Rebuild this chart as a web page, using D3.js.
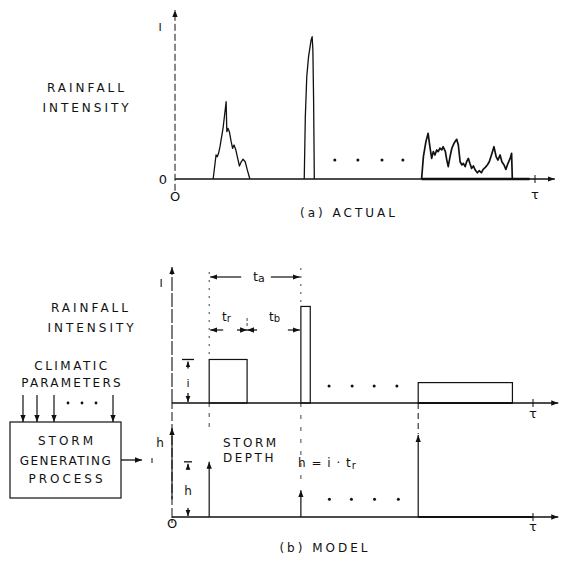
<!DOCTYPE html>
<html>
<head>
<meta charset="utf-8">
<script src="https://cdn.jsdelivr.net/npm/d3@7"></script>
<style>
  html, body { margin: 0; padding: 0; background: #fff; }
  svg { display: block; }
  text { font-family: "DejaVu Sans", sans-serif; fill: #111; }
</style>
</head>
<body>
<script>
// ---------------- DATA ----------------
// (a) ACTUAL: storm hyetographs, time tau (0-100) and intensity (0-100)
const storm1Time = [10.6, 11.4, 11.75, 12.1, 12.5, 13.4, 14.2, 14.4, 14.7, 15.1, 15.6, 16.0, 16.4, 16.9, 17.3, 17.9, 18.4, 18.9, 19.5, 20.1, 20.8];
const storm1Int  = [0, 14.2, 13.2, 15.2, 19.1, 30.9, 45.7, 28, 30, 28, 22.1, 18.2, 20.1, 17.2, 13.2, 7.7, 10.2, 11.7, 10.2, 5.3, 0];
const storm2Time = [35.9, 36.2, 36.6, 37.1, 37.8, 38.1, 38.3, 38.5, 38.7];
const storm2Int  = [0, 36.9, 60.5, 72.4, 82.2, 84.2, 76.3, 46.7, 0];
const storm3Time = [68.5, 69.0, 69.7, 70.3, 70.8, 71.3, 71.75, 72.2, 72.7, 73.1, 73.6, 74.1, 74.5, 75.1, 75.5, 75.9, 76.4, 76.9, 77.5, 78.25, 78.7, 79.2, 79.7, 80.1, 80.6, 81.0, 81.5, 81.9, 82.4, 82.9, 83.4, 84.0, 84.5, 85.1, 85.6, 86.2, 86.75, 87.3, 87.9, 88.6, 89.2, 89.7, 90.3, 90.8, 91.4, 91.9, 92.5, 93.1, 93.5, 93.7];
const storm3Int  = [0, 13.2, 22.1, 27, 19.1, 12.2, 16.2, 14.2, 17.2, 16.2, 18.2, 17.2, 19.1, 16.2, 11.2, 7.3, 13.2, 18.2, 21.1, 23.5, 20.1, 10.2, 8.3, 9.3, 7.3, 10.2, 12.2, 9.3, 6.3, 7.7, 5.3, 3.7, 4.9, 3.7, 5.7, 6.9, 8.3, 10.2, 14.2, 19.1, 13.2, 11.2, 14.2, 10.2, 8.3, 5.7, 9.3, 12.2, 15.2, 0];
const dotsActualTime = [44.4, 50.8, 57.5, 63.3];
const dotsActualInt = 11.2;

// (b) MODEL: rectangular pulses and storm depths
const modelStart     = [10.3, 35.7, 68.2];
const modelEnd       = [20.8, 38.3, 94.3];
const modelIntensity = [32, 71, 15];
const modelDepth     = [62, 30, 92];
const dotsModelTime  = [43.5, 49.9, 56.0, 62.3];
const dotsModelInt   = 12.5;
const dotsDepthTime  = [43.6, 49.7, 56.1, 62.7];
const dotsDepthVal   = 20;
const climaticArrowsX = [23, 37, 54, 113];

// ---------------- SVG ----------------
const W = 567, H = 561;
const svg = d3.select("body").append("svg").attr("width", W).attr("height", H);
const defs = svg.append("defs");
defs.append("marker").attr("id", "ah")
  .attr("viewBox", "0 0 10 10").attr("refX", 10).attr("refY", 5)
  .attr("markerWidth", 7).attr("markerHeight", 7).attr("markerUnits", "userSpaceOnUse")
  .attr("orient", "auto-start-reverse")
  .append("path").attr("d", "M0,1.2L10,5L0,8.8z").attr("fill", "#111");
defs.append("marker").attr("id", "ahs")
  .attr("viewBox", "0 0 10 10").attr("refX", 10).attr("refY", 5)
  .attr("markerWidth", 6).attr("markerHeight", 6).attr("markerUnits", "userSpaceOnUse")
  .attr("orient", "auto-start-reverse")
  .append("path").attr("d", "M0,1L10,5L0,9z").attr("fill", "#111");

const ink = "#111";
function line(g, x1, y1, x2, y2, opts = {}) {
  const l = g.append("line").attr("x1", x1).attr("y1", y1).attr("x2", x2).attr("y2", y2)
    .attr("stroke", ink).attr("stroke-width", opts.w || 1.2);
  if (opts.dash) l.attr("stroke-dasharray", opts.dash);
  if (opts.end) l.attr("marker-end", `url(#${opts.end})`);
  if (opts.start) l.attr("marker-start", `url(#${opts.start})`);
  return l;
}
function label(g, x, y, t, opts = {}) {
  return g.append("text").attr("x", x).attr("y", y)
    .attr("text-anchor", opts.anchor || "middle")
    .attr("font-size", opts.size || 12)
    .attr("letter-spacing", opts.ls != null ? opts.ls : 3)
    .text(t);
}

// ================= (a) ACTUAL =================
const xA = d3.scaleLinear().domain([0, 100]).range([175, 535]);
const yA = d3.scaleLinear().domain([0, 100]).range([179, 10]);
const gA = svg.append("g");

// axes
line(gA, xA(0), yA(-7), xA(0), yA(100), { w: 1, dash: "7,3", end: "ah" });
line(gA, xA(0), yA(0), xA(105.5), yA(0), { w: 1.3, end: "ah" });
line(gA, xA(68.5), yA(0), xA(98.5), yA(0), { w: 2.4 });
line(gA, xA(100), yA(0) - 4, xA(100), yA(0) + 4, { w: 1 });

const lineA = d3.line().x(d => xA(d[0])).y(d => yA(d[1]));
[[storm1Time, storm1Int, 1.3], [storm2Time, storm2Int, 1.3], [storm3Time, storm3Int, 1.7]].forEach(([t, v, w]) => {
  gA.append("path").datum(t.map((d, i) => [d, v[i]])).attr("d", lineA)
    .attr("fill", "none").attr("stroke", ink).attr("stroke-width", w).attr("stroke-linejoin", "round");
});
gA.selectAll("circle.dot").data(dotsActualTime).join("circle")
  .attr("cx", d => xA(d)).attr("cy", yA(dotsActualInt)).attr("r", 1.5).attr("fill", ink);

label(gA, 160, 31, "I", { ls: 0, size: 11 });
label(gA, 163, 184, "0", { ls: 0, size: 13 });
label(gA, xA(0), 201, "O", { ls: 0, size: 13 });
label(gA, xA(100), 199, "τ", { ls: 0, size: 13 });
label(gA, 87, 92, "RAINFALL", { ls: 3 });
label(gA, 87, 112, "INTENSITY", { ls: 3 });
label(gA, 349, 217, "(a) ACTUAL", { ls: 3 });

// ================= (b) MODEL =================
const xB = d3.scaleLinear().domain([0, 100]).range([172, 533]);
const yB1 = d3.scaleLinear().domain([0, 100]).range([403, 267]);
const yB2 = d3.scaleLinear().domain([0, 100]).range([517, 428]);
const gB = svg.append("g");

// top panel axes
line(gB, xB(0), yB2(0), xB(0), yB1(0), { w: 1, dash: "9,3" });
line(gB, xB(0), yB1(0), xB(0), yB1(100), { w: 1.1, dash: "14,2", end: "ah" });
line(gB, xB(0), yB1(0), xB(107), yB1(0), { w: 1.4, end: "ah" });
line(gB, xB(100), yB1(0) - 4, xB(100), yB1(0) + 4, { w: 1 });
label(gB, xB(100), 418, "τ", { ls: 0, size: 13 });
label(gB, 161, 287, "I", { ls: 0, size: 11 });

// rectangles
modelStart.forEach((s, i) => {
  gB.append("rect")
    .attr("x", xB(s)).attr("y", yB1(modelIntensity[i]))
    .attr("width", xB(modelEnd[i]) - xB(s)).attr("height", yB1(0) - yB1(modelIntensity[i]))
    .attr("fill", "none").attr("stroke", ink).attr("stroke-width", 1.2);
});
line(gB, xB(modelStart[2]), yB1(0), xB(modelEnd[2]), yB1(0), { w: 2.2 });
gB.selectAll("circle.dm").data(dotsModelTime).join("circle")
  .attr("cx", d => xB(d)).attr("cy", yB1(dotsModelInt)).attr("r", 1.5).attr("fill", ink);

// intensity dimension
const dimX = 188;
line(gB, dimX - 6, yB1(modelIntensity[0]), dimX + 6, yB1(modelIntensity[0]), { w: 1.3 });
line(gB, dimX, yB1(modelIntensity[0]) + 9, dimX, yB1(modelIntensity[0]) + 2, { w: 1.3, end: "ahs" });
line(gB, dimX, yB1(0) - 10, dimX, yB1(0) - 1, { w: 1.3, end: "ahs" });
label(gB, dimX, 387, "i", { ls: 0, size: 11 });

// ta, tr, tb dimensions
const x0 = xB(modelStart[0]), x1 = xB(modelEnd[0]), x2 = xB(modelStart[1]);
line(gB, x0, 272, x0, yB1(modelIntensity[0]), { w: 0.8, dash: "2,6" });
line(gB, x2, 268, x2, yB1(modelIntensity[1]), { w: 0.8, dash: "2,6" });
line(gB, x0 + 32, 277, x0 + 1, 277, { w: 1.2, end: "ah" });
line(gB, x2 - 30, 277, x2 - 1, 277, { w: 1.2, end: "ah" });
gB.append("text").attr("x", 253).attr("y", 281).attr("font-size", 13).text("t")
  .append("tspan").attr("font-size", 11).attr("dy", 1).text("a");

line(gB, x0 + 14, 330, x0 + 1, 330, { w: 1.2, end: "ah" });
line(gB, x1 - 10, 330, x1, 330, { w: 1.3, end: "ah" });
line(gB, x1 + 10, 330, x1, 330, { w: 1.3, end: "ah" });
line(gB, x1, 318, x1, 326, { w: 0.8, dash: "3,2" });
line(gB, x2 - 13, 330, x2 - 1, 330, { w: 1.2, end: "ah" });
gB.append("text").attr("x", 222).attr("y", 321).attr("font-size", 12).text("t")
  .append("tspan").attr("font-size", 10).attr("dy", 1).text("r");
gB.append("text").attr("x", 269).attr("y", 321).attr("font-size", 12).text("t")
  .append("tspan").attr("font-size", 10).attr("dy", 1).text("b");

label(gB, 91, 312, "RAINFALL", { ls: 3 });
label(gB, 92, 332, "INTENSITY", { ls: 3 });

// bottom panel (storm depth)
line(gB, xB(0), yB2(0) + 6, xB(0), yB2(0), { w: 1, dash: "3,2" });
line(gB, xB(0), yB2(20), xB(0), yB2(100), { w: 1.2, end: "ah" });
line(gB, xB(0), yB2(0), xB(107), yB2(0), { w: 1.4, end: "ah" });
line(gB, xB(modelStart[2]), yB2(0), xB(100), yB2(0), { w: 2 });
line(gB, xB(100), yB2(0) - 4, xB(100), yB2(0) + 4, { w: 1 });
label(gB, xB(100), 531, "τ", { ls: 0, size: 13 });
label(gB, 160, 447, "h", { ls: 0, size: 12 });
label(gB, xB(0), 528, "O", { ls: 0, size: 13 });

modelStart.forEach((s, i) => {
  line(gB, xB(s), yB2(0), xB(s), yB2(modelDepth[i]), { w: 1.2, end: "ah" });
});
// dashed connections between panels
line(gB, xB(modelStart[0]), yB1(0), xB(modelStart[0]), yB1(0) + 30, { w: 0.8, dash: "4,6" });
line(gB, xB(modelStart[1]), yB1(0), xB(modelStart[1]), yB2(modelDepth[1]) - 8, { w: 0.8, dash: "4,8" });
line(gB, xB(modelStart[2]), yB1(0), xB(modelStart[2]), yB2(modelDepth[2]) - 1, { w: 1, dash: "6,4" });

gB.selectAll("circle.dd").data(dotsDepthTime).join("circle")
  .attr("cx", d => xB(d)).attr("cy", yB2(dotsDepthVal)).attr("r", 1.5).attr("fill", ink);

// depth dimension
line(gB, dimX - 4, yB2(modelDepth[0]), dimX + 4, yB2(modelDepth[0]), { w: 1.3 });
line(gB, dimX, yB2(modelDepth[0]) + 8, dimX, yB2(modelDepth[0]) + 2, { w: 1.3, end: "ahs" });
line(gB, dimX, yB2(0) - 9, dimX, yB2(0) - 1, { w: 1.3, end: "ahs" });
label(gB, dimX, 495, "h", { ls: 0, size: 12 });

label(gB, 223, 447, "STORM", { anchor: "start", ls: 2.5 });
label(gB, 223, 462, "DEPTH", { anchor: "start", ls: 2.5 });
const hEq = gB.append("text").attr("x", 298).attr("y", 467).attr("font-size", 12).attr("letter-spacing", 1);
hEq.append("tspan").text("h = i · t");
hEq.append("tspan").attr("font-size", 10).attr("dy", 2).text("r");

label(gB, 325, 552, "(b) MODEL", { ls: 3 });

// climatic parameters + storm generating process box
label(gB, 72, 370, "CLIMATIC", { ls: 2.5 });
label(gB, 72, 387, "PARAMETERS", { ls: 2.2 });
climaticArrowsX.forEach(x => line(gB, x, 395, x, 422, { w: 1.2, end: "ah" }));
gB.selectAll("circle.dc").data([68, 82, 96]).join("circle")
  .attr("cx", d => d).attr("cy", 403).attr("r", 1.4).attr("fill", ink);
gB.append("rect").attr("x", 10).attr("y", 422).attr("width", 111).attr("height", 76)
  .attr("fill", "none").attr("stroke", ink).attr("stroke-width", 1.2);
label(gB, 67, 445, "STORM", { ls: 3 });
label(gB, 66, 465, "GENERATING", { ls: 1.5 });
label(gB, 67, 483, "PROCESS", { ls: 3 });
line(gB, 121, 460, 142, 460, { w: 1.3, end: "ah" });
line(gB, 152, 458, 152, 463, { w: 1 });
</script>
</body>
</html>
